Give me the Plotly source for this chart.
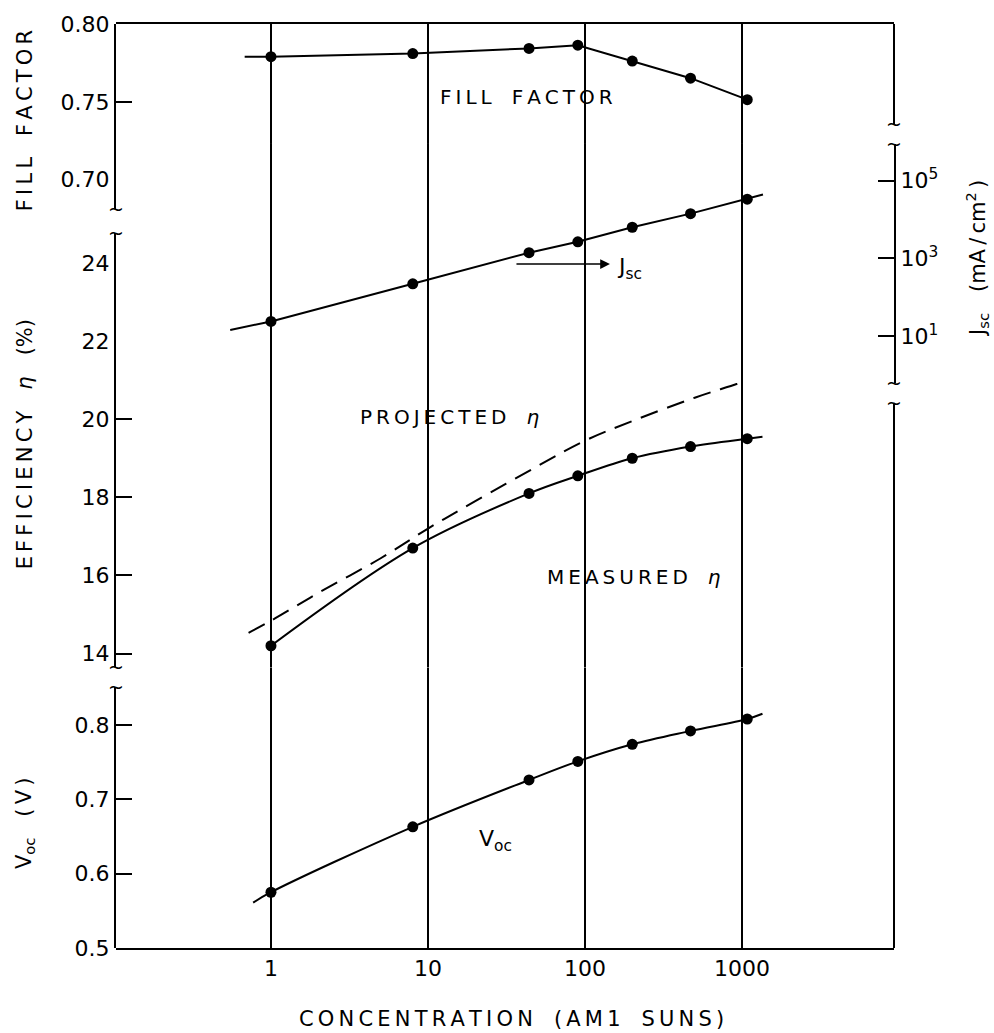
import math
import plotly.graph_objects as go

# ---------------- data ----------------
conc = [1, 8, 44, 90, 200, 470, 1080]                      # AM1 suns
fill_factor = [0.779, 0.781, 0.7843, 0.7864, 0.7762, 0.7652, 0.7514]
jsc = [24.1, 224, 1406, 2680, 6350, 14200, 33400]           # mA/cm2
eta_measured = [14.2, 16.7, 18.1, 18.55, 19.0, 19.3, 19.5]  # %
voc = [0.575, 0.663, 0.726, 0.751, 0.774, 0.792, 0.808]     # V

proj_conc = [0.72, 1, 2, 5, 10, 20, 50, 100, 200, 500, 1000, 1350]
eta_projected = [14.53, 14.84, 15.55, 16.44, 17.2, 17.9, 18.8, 19.45, 19.95, 20.55, 20.95, 21.15]

# where the drawn curves start / end beyond the measured points
ff_start = (0.68, 0.779)
jsc_start, jsc_end = (0.55, 14.5), (1360, 44000)
eta_end = (1350, 19.55)
voc_start, voc_end = (0.77, 0.561), (1350, 0.815)

x_ticks = [1, 10, 100, 1000]
ff_ticks = [0.70, 0.75, 0.80]
eta_ticks = [14, 16, 18, 20, 22, 24]
voc_ticks = [0.5, 0.6, 0.7, 0.8]
jsc_ticks = [10, 1000, 100000]

FONT = "DejaVu Sans"
fig = go.Figure()

line = dict(color="black", width=2)
mk = dict(color="black", size=11)

# invisible trace so the full-height base subplot (grid + frame) is drawn
fig.add_trace(go.Scatter(x=[1], y=[0.5], mode="markers", marker=dict(opacity=0),
                         hoverinfo="skip", xaxis="x", yaxis="y"))

# Fill factor
fig.add_trace(go.Scatter(x=[ff_start[0]] + conc, y=[ff_start[1]] + fill_factor,
                         mode="lines", line=line, xaxis="x", yaxis="y2"))
fig.add_trace(go.Scatter(x=conc, y=fill_factor, mode="markers", marker=mk,
                         xaxis="x", yaxis="y2"))
# Jsc
fig.add_trace(go.Scatter(x=[jsc_start[0]] + conc + [jsc_end[0]],
                         y=[jsc_start[1]] + jsc + [jsc_end[1]],
                         mode="lines", line=line, xaxis="x", yaxis="y5"))
fig.add_trace(go.Scatter(x=conc, y=jsc, mode="markers", marker=mk, xaxis="x", yaxis="y5"))
# projected efficiency
fig.add_trace(go.Scatter(x=proj_conc, y=eta_projected, mode="lines",
                         line=dict(color="black", width=2, dash="18px,10px", shape="spline"),
                         xaxis="x", yaxis="y3"))
# measured efficiency
fig.add_trace(go.Scatter(x=conc + [eta_end[0]], y=eta_measured + [eta_end[1]], mode="lines",
                         line=dict(color="black", width=2, shape="spline"), xaxis="x", yaxis="y3"))
fig.add_trace(go.Scatter(x=conc, y=eta_measured, mode="markers", marker=mk, xaxis="x", yaxis="y3"))
# Voc
fig.add_trace(go.Scatter(x=[voc_start[0]] + conc + [voc_end[0]],
                         y=[voc_start[1]] + voc + [voc_end[1]], mode="lines",
                         line=dict(color="black", width=2, shape="spline"), xaxis="x", yaxis="y4"))
fig.add_trace(go.Scatter(x=conc, y=voc, mode="markers", marker=mk, xaxis="x", yaxis="y4"))

# ---------------- axes ----------------
W, H = 994, 1033
L, R, T, B = 116, 100, 16, 85
PH = H - T - B  # 932


def py(pix):
    """paper y from pixel y"""
    return (H - B - pix) / PH


def px(pix):
    return (pix - L) / (W - L - R)


tickfont = dict(family=FONT, size=22, color="black")
ycommon = dict(anchor="x", showline=True, linecolor="black", linewidth=2, ticks="inside",
               ticklen=16, tickwidth=1.5, tickcolor="black", showgrid=False, zeroline=False,
               tickfont=tickfont, fixedrange=True)

fig.update_layout(
    width=W, height=H, margin=dict(l=L, r=R, t=T, b=B),
    plot_bgcolor="white", paper_bgcolor="white", showlegend=False,
    font=dict(family=FONT, size=20, color="black"),
    xaxis=dict(type="log", range=[-0.987, 3.968], tickvals=x_ticks,
               ticktext=[str(v) for v in x_ticks], showgrid=True, gridcolor="black",
               gridwidth=1.5, showline=True, linecolor="black", linewidth=2, mirror=True,
               ticks="", zeroline=False, anchor="y", tickfont=tickfont, fixedrange=True),
    yaxis=dict(domain=[0, 1], range=[0, 1], visible=False, fixedrange=True),
    yaxis2=dict(domain=[py(203), 1], range=[0.68089, 0.80], tickvals=ff_ticks,
                ticktext=["%.2f" % v for v in ff_ticks], side="left", **ycommon),
    yaxis3=dict(domain=[py(665), py(227)], range=[13.645, 24.761], tickvals=eta_ticks,
                ticktext=[str(v) for v in eta_ticks], side="left", **ycommon),
    yaxis4=dict(domain=[0, py(685)], range=[0.5, 0.8507], tickvals=voc_ticks,
                ticktext=["%.1f" % v for v in voc_ticks], side="left", **ycommon),
    yaxis5=dict(domain=[py(378), py(137)], type="log", range=[-0.197, 5.943],
                tickvals=jsc_ticks,
                ticktext=["10<sup>%d</sup>" % round(math.log10(v)) for v in jsc_ticks],
                side="right", **ycommon),
)

# right border segments outside the Jsc axis
shapes = [
    dict(type="line", xref="paper", yref="paper", x0=1, x1=1, y0=py(117), y1=1,
         line=dict(color="black", width=2)),
    dict(type="line", xref="paper", yref="paper", x0=1, x1=1, y0=0, y1=py(398),
         line=dict(color="black", width=2)),
]
fig.update_layout(shapes=shapes)

ann = []
# axis break marks
for xp, yp in [(0, 203), (0, 227), (0, 665), (0, 685), (1, 117), (1, 137), (1, 378), (1, 398)]:
    ann.append(dict(x=xp, y=py(yp), xref="paper", yref="paper", text="~", showarrow=False,
                    font=dict(family=FONT, size=19, color="black"), xanchor="center",
                    yanchor="middle"))

tf = dict(family=FONT, size=21, color="black")
T1 = "\u2009"
T2 = "\u2003"


def spaced(s):
    return T2.join(T1.join(list(w)) for w in s.split(" "))


c = dict(xref="paper", yref="paper", showarrow=False, font=tf, xanchor="center", yanchor="middle")
# axis titles
ann += [
    dict(x=px(25), y=py(114), text=spaced("FILL FACTOR"), textangle=-90, **c),
    dict(x=px(25), y=py(440), text=spaced("EFFICIENCY") + T2 + "<i>η</i>" + T2 + "(%)",
         textangle=-90, **c),
    dict(x=px(25), y=py(822), text="V<sub>oc</sub>" + T2 + "(" + T1 + "V" + T1 + ")",
         textangle=-90, **c),
    dict(x=px(977), y=py(253),
         text="J<sub>sc</sub>" + T2 + "(mA" + T1 + "/" + T1 + "cm<sup>2</sup>" + T1 + ")",
         textangle=-90, **c),
    dict(x=px(511), y=py(1020), text=spaced("CONCENTRATION") + T2 + "(" + T1 + spaced("AM1 SUNS") + T1 + ")",
         **c),
]

lf = dict(family=FONT, size=20, color="black")
d = dict(showarrow=False, font=lf, xanchor="center", yanchor="middle")
# curve labels
ann += [
    dict(x=1.627, y=0.7529, xref="x", yref="y2", text=spaced("FILL FACTOR"), **d),
    dict(x=1.14, y=20.05, xref="x", yref="y3", text=spaced("PROJECTED") + T2 + "<i>η</i>", **d),
    dict(x=2.31, y=15.95, xref="x", yref="y3", text=spaced("MEASURED") + T2 + "<i>η</i>", **d),
    dict(x=1.43, y=0.644, xref="x", yref="y4", text="V<sub>oc</sub>",
         showarrow=False, xanchor="center", yanchor="middle",
         font=dict(family=FONT, size=22, color="black")),
    dict(x=2.159, y=23.97, xref="x", yref="y3", text="", showarrow=True, ax=-95, ay=0,
         arrowhead=2, arrowsize=1.3, arrowwidth=1.5, arrowcolor="black"),
    dict(x=2.19, y=23.85, xref="x", yref="y3", text="J<sub>sc</sub>", showarrow=False,
         xanchor="left", yanchor="middle", font=dict(family=FONT, size=22, color="black")),
]
fig.update_layout(annotations=ann)

fig.write_html("out.html")
